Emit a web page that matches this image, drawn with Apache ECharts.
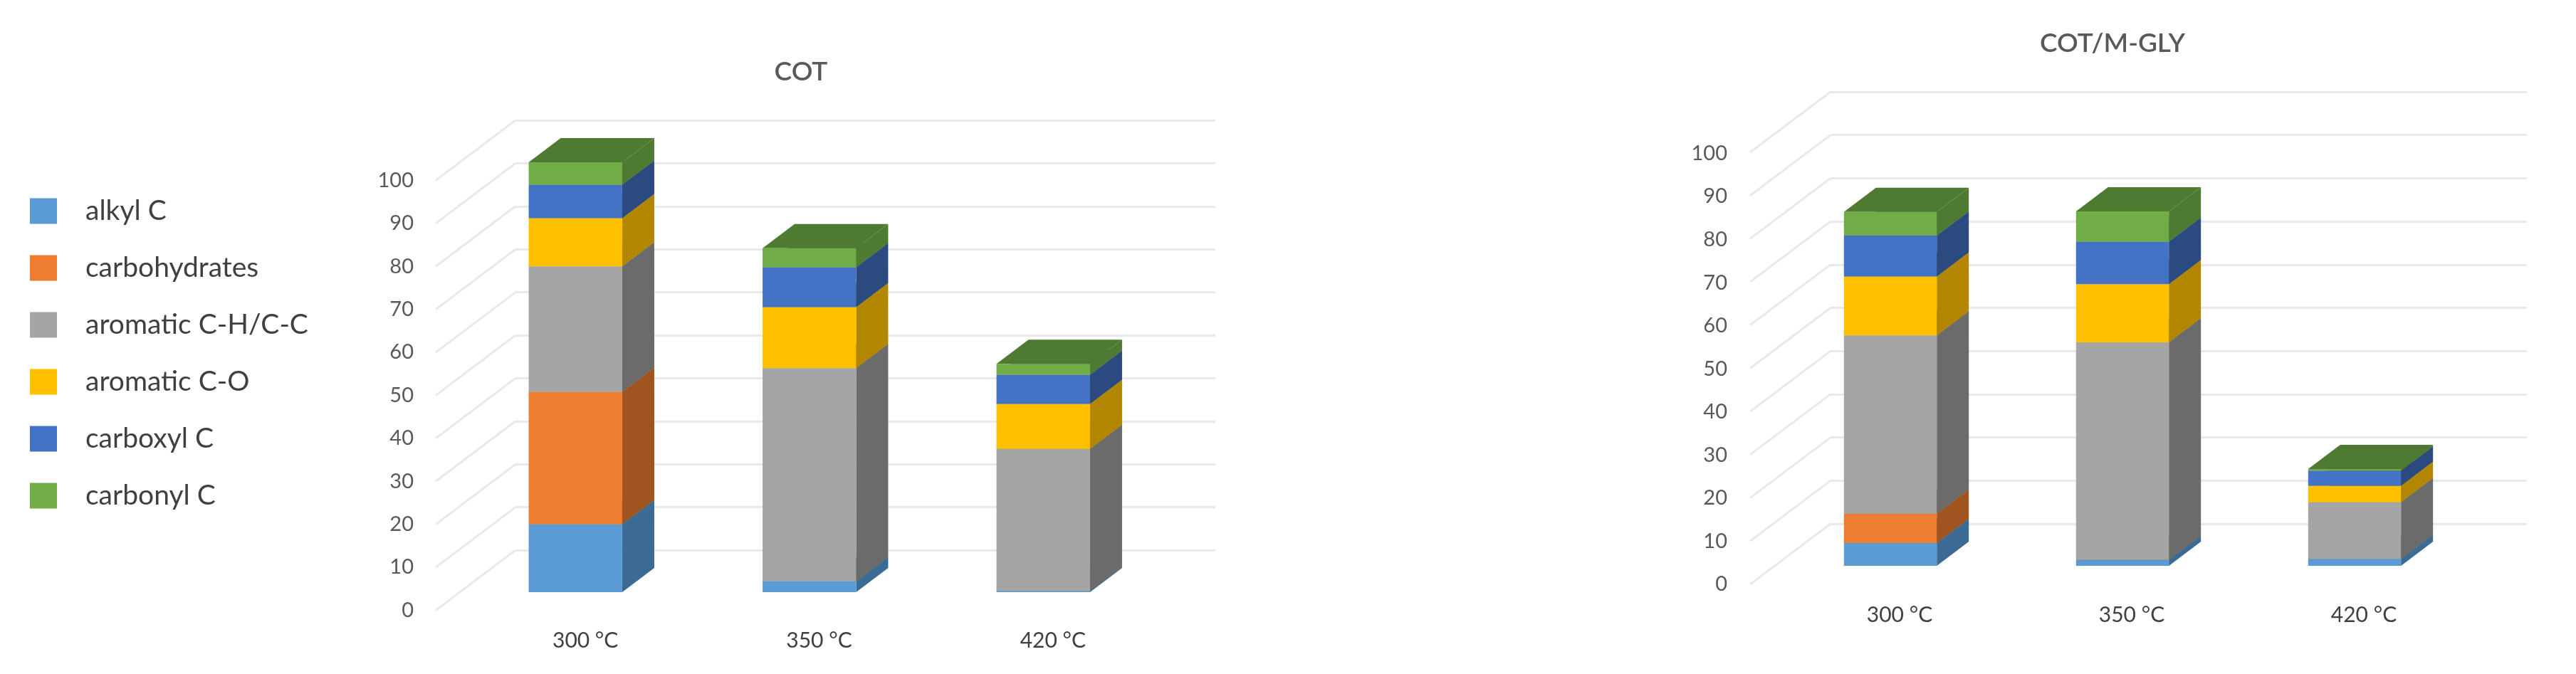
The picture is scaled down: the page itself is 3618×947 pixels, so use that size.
<!DOCTYPE html>
<html><head><meta charset="utf-8">
<style>html,body{margin:0;padding:0;background:#fff}#c{width:3618px;height:947px}</style>
<script src="https://cdn.jsdelivr.net/npm/echarts@6/dist/echarts.min.js"></script>
</head><body><div id="c"></div>
<script>
const categories = ['300 °C', '350 °C', '420 °C'];
const seriesNames = ['alkyl C', 'carbohydrates', 'aromatic C-H/C-C', 'aromatic C-O', 'carboxyl C', 'carbonyl C'];
const tickValues = [0, 10, 20, 30, 40, 50, 60, 70, 80, 90, 100];
const cotAlkyl = [15.8, 2.5, 0.3];
const cotCarbohydrates = [30.8, 0, 0];
const cotAromaticCH = [29.2, 49.6, 33];
const cotAromaticCO = [11.2, 14.2, 10.5];
const cotCarboxyl = [7.8, 9.3, 6.8];
const cotCarbonyl = [5.2, 4.4, 2.5];
const mglyAlkyl = [5.3, 1.4, 1.6];
const mglyCarbohydrates = [6.8, 0, 0];
const mglyAromaticCH = [41.4, 50.5, 13.2];
const mglyAromaticCO = [13.7, 13.5, 3.8];
const mglyCarboxyl = [9.5, 9.9, 3.5];
const mglyCarbonyl = [5.5, 7, 0.4];

const frontColors = ['#5b9bd5', '#ed7d31', '#a5a5a5', '#ffc000', '#4472c4', '#70ad47'];
const sideColors = ['#3b6a94', '#a0541f', '#6b6b6b', '#b38600', '#2b4a80', '#4e7a31'];
const textGrey = '#595959';
const font = 'Lato, "Open Sans", sans-serif';
const barDepth = [45, 34];

const panels = [
  { title: 'COT', titleX: 1120, titleY: 96,
    stacks: [cotAlkyl, cotCarbohydrates, cotAromaticCH, cotAromaticCO, cotCarboxyl, cotCarbonyl],
    back: { left: 724, top: 169, width: 983, height: 604 },
    bars: { left: 644, top: 228, width: 985.5, height: 604 },
    front: { left: 658, top: 253.5, width: 985, height: 604 },
    depth: [-112, 84.5], yMargin: 77, xMargin: 28 },
  { title: 'COT/M-GLY', titleX: 2962, titleY: 56,
    stacks: [mglyAlkyl, mglyCarbohydrates, mglyAromaticCH, mglyAromaticCO, mglyCarboxyl, mglyCarbonyl],
    back: { left: 2571, top: 129, width: 978, height: 607 },
    bars: { left: 2492, top: 190, width: 978, height: 605 },
    front: { left: 2505, top: 215.5, width: 978, height: 605.5 },
    depth: [-113, 85], yMargin: 79, xMargin: 28 }
];

const grids = [], xAxes = [], yAxes = [], series = [], titles = [];
panels.forEach(function (p) {
  const b = grids.length;
  grids.push(p.back, p.bars, p.front);
  titles.push({ text: p.title, left: p.titleX, top: p.titleY, textAlign: 'center', textVerticalAlign: 'middle',
    textStyle: { color: textGrey, fontFamily: font, fontSize: 37, fontWeight: 600 } });

  // back wall: gridlines
  xAxes.push({ gridIndex: b, type: 'value', min: 0, max: 1, show: false });
  yAxes.push({ gridIndex: b, type: 'value', min: 0, max: 100, interval: 10,
    axisLine: { show: false }, axisTick: { show: false }, axisLabel: { show: false },
    splitLine: { show: true, lineStyle: { color: '#e9e9e9', width: 3 } } });
  // bar plane
  xAxes.push({ gridIndex: b + 1, type: 'category', data: categories, show: false });
  yAxes.push({ gridIndex: b + 1, type: 'value', min: 0, max: 100, interval: 10, show: false });
  // front plane: tick labels
  xAxes.push({ gridIndex: b + 2, type: 'category', data: categories,
    axisLine: { show: false }, axisTick: { show: false },
    axisLabel: { margin: p.xMargin, color: '#404040', fontFamily: font, fontSize: 30 } });
  yAxes.push({ gridIndex: b + 2, type: 'value', min: 0, max: 100, interval: 10,
    axisLine: { show: false }, axisTick: { show: false }, splitLine: { show: false },
    axisLabel: { margin: p.yMargin, color: textGrey, fontFamily: font, fontSize: 29 } });

  // floor / side wall diagonals
  series.push({
    type: 'custom', xAxisIndex: b, yAxisIndex: b, silent: true, z: 1,
    data: tickValues.map(function (v) { return [0, v]; }),
    encode: { x: 0, y: 1 },
    renderItem: function (params, api) {
      const pt = api.coord([0, api.value(1)]);
      return { type: 'line', shape: { x1: pt[0], y1: pt[1], x2: pt[0] + p.depth[0], y2: pt[1] + p.depth[1] },
        style: { stroke: '#e9e9e9', lineWidth: 3 } };
    }
  });

  // stacked prisms
  const running = categories.map(function () { return 0; });
  p.stacks.forEach(function (vals, si) {
    const data = vals.map(function (v, i) {
      const row = [i, running[i], running[i] + v];
      running[i] += v;
      return row;
    });
    series.push({
      type: 'custom', name: seriesNames[si], xAxisIndex: b + 1, yAxisIndex: b + 1, z: 2 + si,
      itemStyle: { color: frontColors[si] },
      data: data, encode: { x: 0, y: [1, 2] },
      renderItem: function (params, api) {
        const i = api.value(0);
        const lo = api.coord([i, api.value(1)]);
        const hi = api.coord([i, api.value(2)]);
        const w = api.size([1, 0])[0] * 0.4;
        const x0 = lo[0] - w / 2, x1 = lo[0] + w / 2;
        const dx = barDepth[0], dy = barDepth[1];
        return { type: 'group', children: [
          { type: 'polygon', shape: { points: [[x0, hi[1]], [x1, hi[1]], [x1 + dx, hi[1] - dy], [x0 + dx, hi[1] - dy]] },
            style: { fill: sideColors[5] } },
          { type: 'polygon', shape: { points: [[x1, lo[1]], [x1 + dx, lo[1] - dy], [x1 + dx, hi[1] - dy], [x1, hi[1]]] },
            style: { fill: sideColors[si] } },
          { type: 'rect', shape: { x: x0, y: hi[1], width: w, height: lo[1] - hi[1] },
            style: { fill: frontColors[si] } }
        ] };
      }
    });
  });
});

const chart = echarts.init(document.getElementById('c'), null, { renderer: 'canvas' });
chart.setOption({
  animation: false,
  backgroundColor: '#fff',
  title: titles,
  legend: {
    orient: 'vertical', left: 37, top: 272, icon: 'rect', itemWidth: 38, itemHeight: 36, itemGap: 41,
    data: seriesNames, selectedMode: false,
    textStyle: { color: '#404040', fontFamily: font, fontSize: 39, lineHeight: 36, padding: [0, 0, 0, 35] }
  },
  grid: grids, xAxis: xAxes, yAxis: yAxes, series: series
});
</script></body></html>
